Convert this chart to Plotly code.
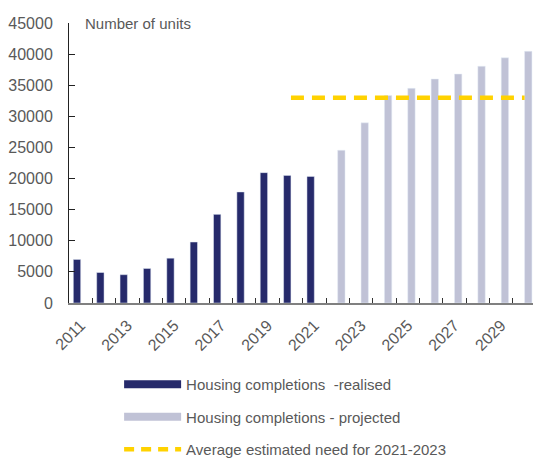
import plotly.graph_objects as go

years = [str(y) for y in range(2011, 2031)]
tick_text = [y if int(y) % 2 == 1 else "" for y in years]

# None where a series has no bar for that year
realised_values = [7000, 4900, 4550, 5550, 7200, 9800, 14250, 17850, 20950, 20500, 20350,
                   None, None, None, None, None, None, None, None, None]
projected_values = [None, None, None, None, None, None, None, None, None, None, None,
                    24550, 28950, 33350, 34500, 36000, 36800, 38050, 39400, 40450]

need_years = ["2020", "2030"]
need_values = [33000, 33000]

NAVY = "#262A6B"
LIGHT = "#C0C2D6"
YELLOW = "#FFD200"
GRAY = "#595959"
FONT = "Liberation Sans, Arial, sans-serif"

fig = go.Figure()

fig.add_trace(go.Bar(x=years, y=realised_values, marker_color=NAVY,
                     name="Housing completions  -realised", showlegend=False))
fig.add_trace(go.Bar(x=years, y=projected_values, marker_color=LIGHT,
                     name="Housing completions - projected", showlegend=False))
fig.add_trace(go.Scatter(x=need_years, y=need_values, mode="lines",
                         line=dict(color=YELLOW, width=4.5, dash="13px,8px"),
                         name="Average estimated need for 2021-2023", showlegend=False))

# legend-only entries
fig.add_trace(go.Scatter(x=[None], y=[None], mode="lines", line=dict(color=NAVY, width=8),
                         name="Housing completions  -realised", legendgroup="a"))
fig.add_trace(go.Scatter(x=[None], y=[None], mode="lines", line=dict(color=LIGHT, width=8),
                         name="Housing completions - projected", legendgroup="b"))
fig.add_trace(go.Scatter(x=[None], y=[None], mode="lines",
                         line=dict(color=YELLOW, width=4.5, dash="10px,7px"),
                         name="Average estimated need for 2021-2023", legendgroup="c"))

fig.update_layout(
    width=533, height=459,
    margin=dict(l=69, r=0, t=23, b=156, autoexpand=False),
    paper_bgcolor="white", plot_bgcolor="white",
    barmode="group", bargap=0.37, bargroupgap=0,
    font=dict(family=FONT, size=15, color=GRAY),
    legend=dict(x=0.108, y=-0.232, xanchor="left", yanchor="top",
                font=dict(size=15, color=GRAY), tracegroupgap=10,
                itemwidth=57, bgcolor="rgba(0,0,0,0)"),
    annotations=[dict(text="Number of units", xref="paper", yref="paper",
                      x=0.030, y=1.0, xanchor="left", yanchor="middle",
                      showarrow=False, font=dict(size=15, color=GRAY))],
)

fig.update_xaxes(type="category", categoryorder="array", categoryarray=years,
                 range=[-0.5, 19.36], autorange=False, automargin=False,
                 tickvals=years, ticktext=tick_text,
                 tickangle=-45, tickson="boundaries", ticks="inside", ticklen=5,
                 tickcolor="#333333", showline=True, linecolor="#808080", linewidth=1.5,
                 showgrid=False, ticklabelstandoff=5, tickfont=dict(size=16, color=GRAY))
fig.update_yaxes(range=[0, 45000], autorange=False, automargin=False, dtick=5000,
                 tickformat="d", ticks="inside", ticklen=6,
                 tickcolor="#222222", showline=True, linecolor="#222222", linewidth=1,
                 showgrid=False, zeroline=False, ticklabelstandoff=12,
                 tickfont=dict(size=16, color=GRAY))

fig.write_html("out.html", config={"displayModeBar": False},
               post_script="document.body.style.margin='0';document.body.style.overflow='hidden';")
